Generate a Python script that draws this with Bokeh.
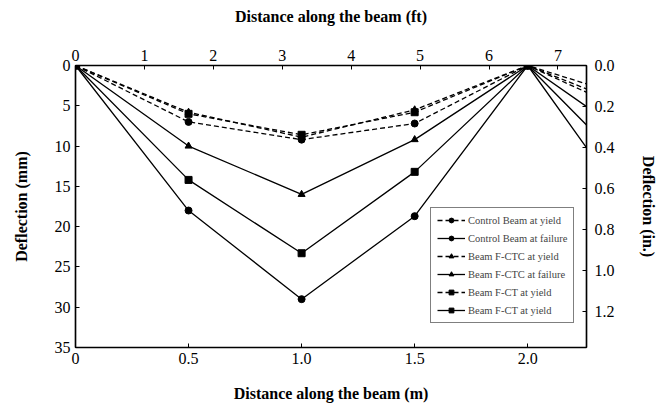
from bokeh.plotting import figure
from bokeh.models import Range1d, LinearAxis, FixedTicker, Legend, LegendItem
from bokeh.embed import file_html
from bokeh.resources import INLINE

# Data (distance in m, deflection in mm)
x_m = [0.0, 0.5, 1.0, 1.5, 2.0, 2.5]
control_yield = [0.0, 7.0, 9.2, 7.2, 0.0, 6.4]
control_failure = [0.0, 18.0, 29.0, 18.7, 0.0, 19.6]
ctc_yield = [0.0, 5.8, 8.9, 5.5, 0.0, 4.4]
ctc_failure = [0.0, 10.0, 16.0, 9.2, 0.0, 9.8]
fct_yield = [0.0, 6.0, 8.6, 5.8, 0.0, 5.6]
fct_failure = [0.0, 14.2, 23.3, 13.2, 0.0, 14.2]

labels = ["Control Beam at yield", "Control Beam at failure",
          "Beam F-CTC at yield", "Beam F-CTC at failure",
          "Beam F-CT at yield", "Beam F-CT at yield"]
series = [control_yield, control_failure, ctc_yield, ctc_failure, fct_yield, fct_failure]
markers = ["circle", "circle", "triangle", "triangle", "square", "square"]
dashed = [True, False, True, False, True, False]

x_ticks_m = [0, 0.5, 1.0, 1.5, 2.0]
x_tick_labels_m = ["0", "0.5", "1.0", "1.5", "2.0"]
x_ticks_ft = [0, 1, 2, 3, 4, 5, 6, 7]
y_ticks_mm = [0, 5, 10, 15, 20, 25, 30, 35]
y_ticks_in = [0.0, 0.2, 0.4, 0.6, 0.8, 1.0, 1.2]
y_tick_labels_in = ["0.0", "0.2", "0.4", "0.6", "0.8", "1.0", "1.2"]

XMAX = 2.26
YMAX = 35.0
FONT = "Liberation Serif"

p = figure(width=662, height=405, output_backend="svg", toolbar_location=None,
           x_range=Range1d(0, XMAX), y_range=Range1d(YMAX, 0),
           min_border_left=75, min_border_right=76, min_border_top=65, min_border_bottom=58)
p.xgrid.visible = False
p.ygrid.visible = False
p.outline_line_color = "black"
p.outline_line_width = 1.2
p.background_fill_color = "white"
p.border_fill_color = "white"

p.extra_x_ranges = {"ft": Range1d(0, XMAX / 0.3048)}
p.extra_y_ranges = {"in": Range1d(YMAX / 25.4, 0)}

def style(ax, label_size="16px"):
    ax.axis_line_color = "black"
    ax.axis_line_width = 1.5
    ax.major_tick_in = 4
    ax.major_tick_out = 0
    ax.minor_tick_line_color = None
    ax.major_label_text_font = FONT
    ax.major_label_text_font_size = label_size
    ax.major_label_text_color = "black"
    ax.axis_label_text_font = FONT
    ax.axis_label_text_font_size = "16px"
    ax.axis_label_text_font_style = "bold"
    ax.axis_label_text_color = "black"

xb = p.xaxis[0]
xb.ticker = FixedTicker(ticks=x_ticks_m)
xb.major_label_overrides = {t: l for t, l in zip(x_ticks_m, x_tick_labels_m)}
xb.axis_label = "Distance along the beam (m)"
xb.axis_label_standoff = 18
style(xb)

yl = p.yaxis[0]
yl.ticker = FixedTicker(ticks=y_ticks_mm)
yl.axis_label = "Deflection (mm)"
yl.axis_label_standoff = 22
style(yl)

xt = LinearAxis(x_range_name="ft", ticker=FixedTicker(ticks=x_ticks_ft),
                axis_label="Distance along the beam (ft)")
style(xt)
xt.axis_label_standoff = 22
p.add_layout(xt, "above")

yr = LinearAxis(y_range_name="in", ticker=FixedTicker(ticks=y_ticks_in),
                axis_label="Deflection (in.)")
yr.major_label_overrides = {t: l for t, l in zip(y_ticks_in, y_tick_labels_in)}
style(yr)
yr.major_label_standoff = 8
yr.axis_label_standoff = 22
p.add_layout(yr, "right")

items = []
for lab, ys, mk, d in zip(labels, series, markers, dashed):
    ln = p.line(x_m, ys, line_color="black", line_width=1.3,
                line_dash="5 3" if d else "solid")
    sc = p.scatter(x_m, ys, marker=mk, size=7, fill_color="black", line_color="black")
    items.append(LegendItem(label=lab, renderers=[ln, sc]))

legend = Legend(items=items, location=(355, 24))
legend.border_line_color = "black"
legend.border_line_width = 1.5
legend.label_text_font = FONT
legend.label_text_font_size = "10.5px"
legend.label_height = 12
legend.glyph_height = 12
legend.glyph_width = 28
legend.spacing = 6
legend.padding = 6
legend.margin = 0
legend.label_standoff = 3
legend.background_fill_alpha = 1
p.add_layout(legend, "center")

open("out.html", "w").write(file_html(p, INLINE))
